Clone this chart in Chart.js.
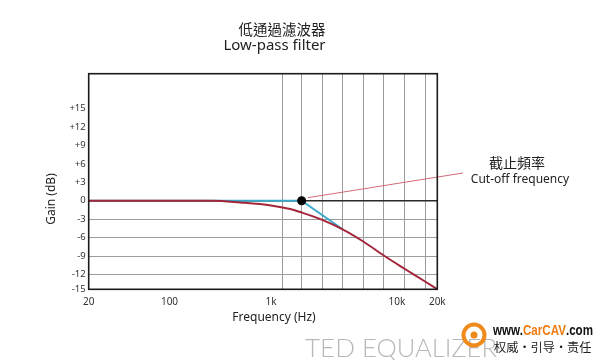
<!DOCTYPE html>
<html><head><meta charset="utf-8">
<script src="https://cdn.jsdelivr.net/npm/chart.js@4/dist/chart.umd.min.js"></script>
<style>html,body{margin:0;padding:0;background:#fff}#wrap{width:600px;height:360px;position:relative}</style>
</head><body><div id="wrap"><canvas id="c" width="600" height="360"></canvas></div>
<script>
// ---- text ----
const titleZh = '低通過濾波器';
const titleEn = 'Low-pass filter';
const xTitle = 'Frequency (Hz)';
const yTitle = 'Gain (dB)';
const cutoffZh = '截止頻率';
const cutoffEn = 'Cut-off frequency';
const brandMain = 'TED';
const brandSub = 'EQUALIZER';

// ---- ticks ----
const xTickValues = [20, 100, 1000, 10000, 20000];
const xTickLabels = ['20', '100', '1k', '10k', '20k'];
const xGridValues = [1240, 1750, 2550, 3700, 5400, 7850, 11300, 16200];
const yTickValues = [-15, -12, -9, -6, -3, 0, 3, 6, 9, 12, 15];
const yTickLabels = ['-15', '-12', '-9', '-6', '-3', '0', '+3', '+6', '+9', '+12', '+15'];

// ---- series ----
const actualFreq = [20, 100, 268, 495, 1000, 1415, 1750, 2550, 3700, 5400, 7850, 11300, 16200, 20000];
const actualGain = [0, 0, 0, -0.29, -0.78, -1.35, -1.92, -3.11, -4.65, -6.63, -8.91, -11.02, -13.42, -15];
const idealFreq = [20, 1750, 3700];
const idealGain = [0, 0, -4.65];
const cutoffFreq = [1750];
const cutoffGain = [0];

// ---- axis warping (the original drawing is not a true log/linear grid) ----
const xKnotValues = [20, 100, 1000, 10000, 20000];
const xKnotFractions = [0, 0.2318, 0.523, 0.8844, 1];
const yKnotValues = [-15, -12, 20.65];
const yKnotFractions = [0, 0.0686, 1];

function makeWarpScale(id, knotValues, knotFractions, useLog) {
  const f = v => useLog ? Math.log10(v) : v;
  const kv = knotValues.map(f);
  function toFrac(v) {
    const x = f(v);
    let i = 0;
    while (i < kv.length - 2 && x > kv[i + 1]) i++;
    const t = (x - kv[i]) / (kv[i + 1] - kv[i]);
    return knotFractions[i] + t * (knotFractions[i + 1] - knotFractions[i]);
  }
  function fromFrac(d) {
    let i = 0;
    while (i < knotFractions.length - 2 && d > knotFractions[i + 1]) i++;
    const t = (d - knotFractions[i]) / (knotFractions[i + 1] - knotFractions[i]);
    const x = kv[i] + t * (kv[i + 1] - kv[i]);
    return useLog ? Math.pow(10, x) : x;
  }
  class S extends Chart.LinearScale {
    getPixelForValue(v) { return this.getPixelForDecimal(toFrac(v)); }
    getValueForPixel(p) { return fromFrac(this.getDecimalForPixel(p)); }
  }
  S.id = id;
  S.defaults = Chart.LinearScale.defaults;
  Chart.register(S);
}
makeWarpScale('warpx', xKnotValues, xKnotFractions, true);
makeWarpScale('warpy', yKnotValues, yKnotFractions, false);

const toPts = (xs, ys) => xs.map((v, i) => ({ x: v, y: ys[i] }));

const decor = {
  id: 'decor',
  afterDatasetsDraw(chart) {
    const { ctx, chartArea: a, scales: { x, y } } = chart;
    ctx.save();
    // annotation leader line
    const px = x.getPixelForValue(cutoffFreq[0]);
    const py = y.getPixelForValue(cutoffGain[0]);
    ctx.strokeStyle = '#d46a7a';
    ctx.lineWidth = 1;
    ctx.beginPath();
    ctx.moveTo(px + 6, py - 3);
    ctx.lineTo(463, 173);
    ctx.stroke();
    // frame
    ctx.strokeStyle = '#1a1a1a';
    ctx.lineWidth = 1.6;
    ctx.strokeRect(a.left, a.top, a.right - a.left, a.bottom - a.top);
    ctx.restore();
  },
  afterDraw(chart) {
    const { ctx } = chart;
    ctx.save();
    ctx.fillStyle = '#222';
    ctx.textAlign = 'center';
    ctx.textBaseline = 'middle';
    ctx.font = '14.5px "Noto Sans CJK TC"';
    ctx.fillText(titleZh, 282, 29);
    ctx.font = '15px "Noto Sans"';
    ctx.fillText(titleEn, 274.5, 46);
    ctx.font = '12px "Noto Sans"';
    ctx.fillText(xTitle, 274, 318);
    ctx.save();
    ctx.translate(52, 199);
    ctx.rotate(-Math.PI / 2);
    ctx.fillText(yTitle, 0, 0);
    ctx.restore();
    ctx.font = '14px "Noto Sans CJK TC"';
    ctx.fillText(cutoffZh, 517, 162.5);
    ctx.font = '12px "Noto Sans"';
    ctx.fillText(cutoffEn, 520, 179.5);

    // brand text
    ctx.textAlign = 'left';
    ctx.textBaseline = 'alphabetic';
    ctx.fillStyle = '#b8b8b8';
    ctx.font = '300 26px "Lato"';
    ctx.fillText(brandMain, 305, 356.5);
    ctx.save();
    const w = ctx.measureText(brandSub).width;
    ctx.translate(362, 356.5);
    ctx.scale(135 / w, 1);
    ctx.fillText(brandSub, 0, 0);
    ctx.restore();

    // site watermark
    ctx.strokeStyle = '#f08a1c';
    ctx.lineWidth = 4;
    ctx.beginPath();
    ctx.arc(474, 335, 10.5, 0, Math.PI * 2);
    ctx.stroke();
    ctx.fillStyle = '#f08a1c';
    ctx.beginPath();
    ctx.arc(474, 335, 3.5, 0, Math.PI * 2);
    ctx.fill();
    ctx.font = 'bold 14px "Liberation Sans"';
    const parts = [['www.', '#111'], ['CarCAV', '#f07a10'], ['.com', '#111']];
    let total = 0;
    parts.forEach(p => total += ctx.measureText(p[0]).width);
    const sx = 100 / total;
    ctx.save();
    ctx.translate(493, 335);
    ctx.scale(sx, 1);
    let cx = 0;
    parts.forEach(p => { ctx.fillStyle = p[1]; ctx.fillText(p[0], cx, 0); cx += ctx.measureText(p[0]).width; });
    ctx.restore();
    ctx.fillStyle = '#222';
    ctx.font = '12.2px "Noto Sans CJK SC"';
    ctx.textBaseline = 'middle';
    ctx.fillText('权威・引导・责任', 494, 347);
    ctx.restore();
  }
};

new Chart(document.getElementById('c'), {
  type: 'line',
  data: {
    datasets: [
      { label: 'Cut-off', data: toPts(cutoffFreq, cutoffGain), showLine: false,
        pointRadius: 4.5, pointBackgroundColor: '#000', pointBorderWidth: 0 },
      { label: 'Actual', data: toPts(actualFreq, actualGain), borderColor: '#a3263a',
        borderWidth: 2, pointRadius: 0, cubicInterpolationMode: 'monotone', fill: false },
      { label: 'Ideal', data: toPts(idealFreq, idealGain), borderColor: '#3aa8c8',
        borderWidth: 2, pointRadius: 0, tension: 0, fill: false }
    ]
  },
  options: {
    responsive: false,
    animation: false,
    devicePixelRatio: 1,
    layout: { padding: { top: 73.7, right: 162.7, left: 0, bottom: 0 } },
    plugins: { legend: { display: false }, tooltip: { enabled: false }, title: { display: false } },
    scales: {
      x: {
        type: 'warpx', min: 20, max: 20000,
        afterBuildTicks: s => { s.ticks = [...xTickValues, ...xGridValues].map(v => ({ value: v })); },
        afterFit: s => { s.height = 70.7; },
        border: { display: false },
        grid: { drawTicks: false, lineWidth: 1,
          color: c => (c.tick && xGridValues.includes(c.tick.value)) ? '#9c9c9c' : 'rgba(0,0,0,0)' },
        ticks: { autoSkip: false, maxRotation: 0, padding: 7, color: '#333',
          font: { family: 'Noto Sans', size: 10 },
          callback: v => { const i = xTickValues.indexOf(v); return i >= 0 ? xTickLabels[i] : ''; } }
      },
      y: {
        type: 'warpy', min: -15, max: 20.65,
        afterBuildTicks: s => { s.ticks = yTickValues.map(v => ({ value: v })); },
        afterFit: s => { s.width = 88.7; },
        border: { display: false },
        grid: { drawTicks: false,
          lineWidth: c => (c.tick && c.tick.value === 0) ? 1.5 : 1,
          color: c => {
            const v = c.tick ? c.tick.value : null;
            if (v === 0) return '#2a2a2a';
            if (v !== null && v < 0 && v > -15) return '#9c9c9c';
            return 'rgba(0,0,0,0)';
          } },
        ticks: { padding: 3, color: '#333', font: { family: 'Noto Sans', size: 9.5 },
          callback: v => { const i = yTickValues.indexOf(v); return i >= 0 ? yTickLabels[i] : ''; } }
      }
    }
  },
  plugins: [decor]
});
</script>
</body></html>
